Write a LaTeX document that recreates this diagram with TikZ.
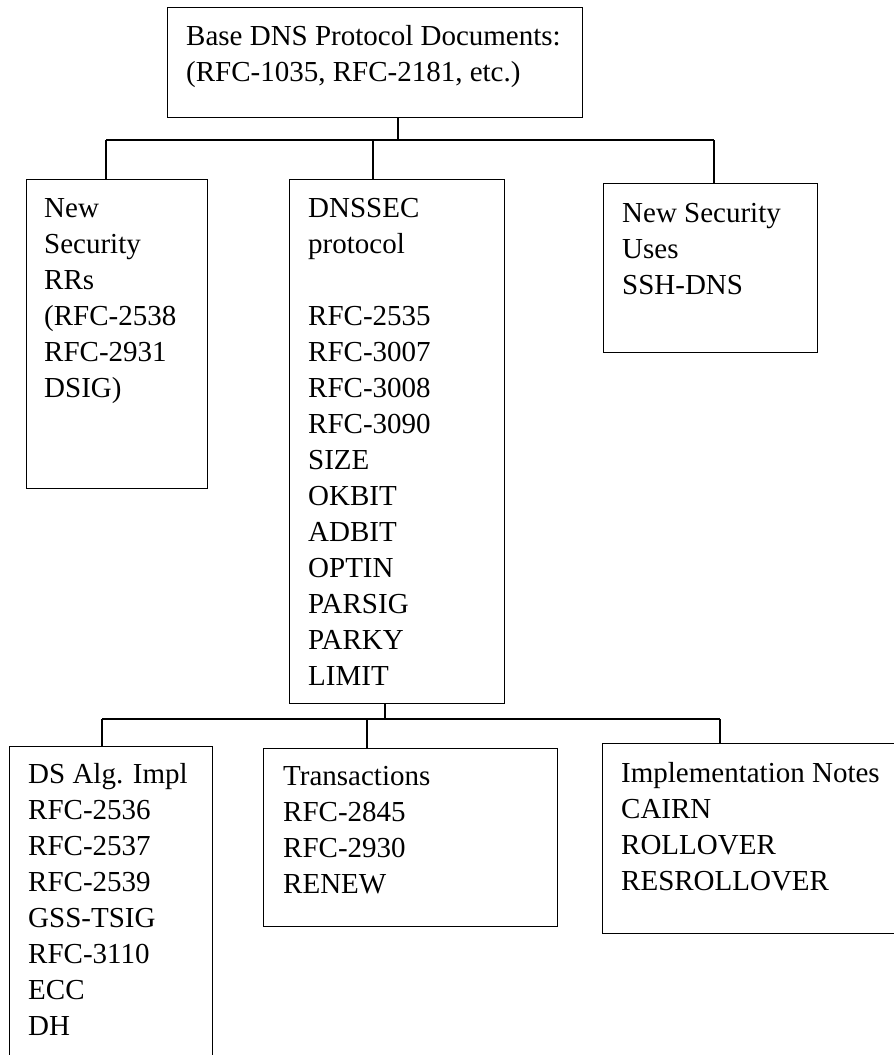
\documentclass[tikz,border=0pt]{standalone}
\usepackage{fontspec}
\setmainfont{Liberation Serif}
\usetikzlibrary{positioning}

\begin{document}
\begin{tikzpicture}[x=1pt,y=-1pt]
    \tikzstyle{doc box} = [draw,rectangle,line width=1.4pt,inner sep=0pt,anchor=north west]
    \tikzstyle{doc text}= [inner sep=0pt,anchor=base west,font=\fontsize{29}{36}\selectfont]
    \tikzstyle{wire}    = [-,black,line width=1.4pt]

    \useasboundingbox (0,0) rectangle (894,1055);

    % boxes
    \node[doc box,minimum width=415pt,minimum height=110pt] (base)   at (167,7)   {};
    \node[doc box,minimum width=181pt,minimum height=309pt] (rrs)    at (26,179)  {};
    \node[doc box,minimum width=215pt,minimum height=524pt] (dnssec) at (289,179) {};
    \node[doc box,minimum width=214pt,minimum height=169pt] (uses)   at (603,183) {};
    \node[doc box,minimum width=203pt,minimum height=340pt] (alg)    at (9,746)   {};
    \node[doc box,minimum width=294pt,minimum height=178pt] (trans)  at (263,748) {};
    \node[doc box,minimum width=310pt,minimum height=190pt] (notes)  at (602,743) {};

    % texts
    \node[doc text] (base txt)   at (186,45)  {\begin{tabular}[t]{@{}l@{}}Base DNS Protocol Documents:\\(RFC-1035, RFC-2181, etc.)\end{tabular}};
    \node[doc text] (rrs txt)    at (44,217)  {\begin{tabular}[t]{@{}l@{}}New\\Security\\RRs\\(RFC-2538\\RFC-2931\\DSIG)\end{tabular}};
    \node[doc text] (dnssec txt) at (308,217) {\begin{tabular}[t]{@{}l@{}}DNSSEC\\protocol\\ \\RFC-2535\\RFC-3007\\RFC-3008\\RFC-3090\\SIZE\\OKBIT\\ADBIT\\OPTIN\\PARSIG\\PARKY\\LIMIT\end{tabular}};
    \node[doc text] (uses txt)   at (622,222) {\begin{tabular}[t]{@{}l@{}}New Security\\Uses\\SSH-DNS\end{tabular}};
    \node[doc text] (alg txt)    at (28,783)  {\begin{tabular}[t]{@{}l@{}}DS Alg. Impl\\RFC-2536\\RFC-2537\\RFC-2539\\GSS-TSIG\\RFC-3110\\ECC\\DH\end{tabular}};
    \node[doc text] (trans txt)  at (283,785) {\begin{tabular}[t]{@{}l@{}}Transactions\\RFC-2845\\RFC-2930\\RENEW\end{tabular}};
    \node[doc text] (notes txt)  at (621,782) {\begin{tabular}[t]{@{}l@{}}Implementation Notes\\CAIRN\\ROLLOVER\\RESROLLOVER\end{tabular}};

    % upper bus
    \coordinate (up top)  at (398,140);
    \coordinate (up rrs)  at (106,140);
    \coordinate (up sec)  at (373,140);
    \coordinate (up uses) at (714,140);
    \draw[wire] (base.south -| up top) -- (up top);
    \draw[wire] (up rrs) -- (up uses);
    \draw[wire] (up rrs) -- (rrs.north -| up rrs);
    \draw[wire] (up sec) -- (dnssec.north -| up sec);
    \draw[wire] (up uses) -- (uses.north -| up uses);

    % lower bus
    \coordinate (lo top)   at (385,719);
    \coordinate (lo alg)   at (102,719);
    \coordinate (lo trans) at (367,719);
    \coordinate (lo notes) at (720,719);
    \draw[wire] (dnssec.south -| lo top) -- (lo top);
    \draw[wire] (lo alg) -- (lo notes);
    \draw[wire] (lo alg) -- (alg.north -| lo alg);
    \draw[wire] (lo trans) -- (trans.north -| lo trans);
    \draw[wire] (lo notes) -- (notes.north -| lo notes);
\end{tikzpicture}
\end{document}
